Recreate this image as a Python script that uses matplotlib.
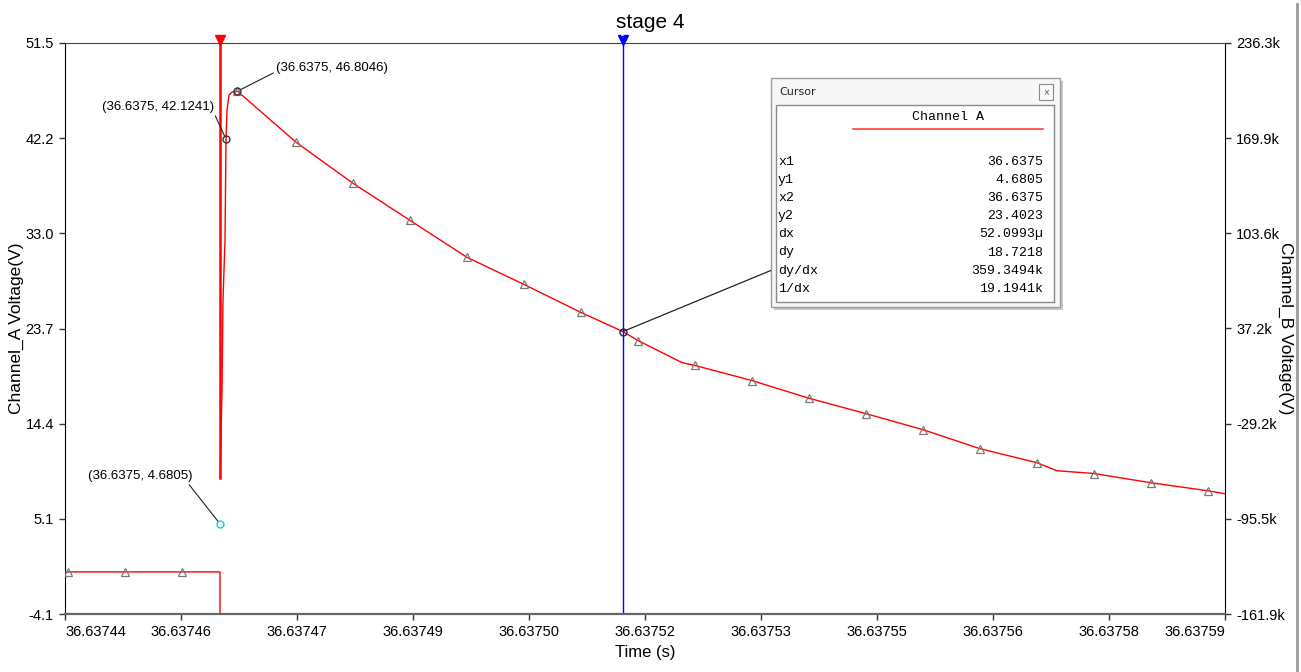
import numpy as np
import matplotlib.pyplot as plt
from matplotlib.patches import Rectangle

W, H = 1301, 672
BODY = ['Liberation Sans', 'DejaVu Sans']
MONO = ['Liberation Mono', 'DejaVu Sans Mono']
plt.rcParams['font.family'] = BODY

# time axis (s) and tick labels
t_start = 36.63744
t_span = 150e-6
xtick_labels = ['36.63744', '36.63746', '36.63747', '36.63749', '36.63750', '36.63752',
                '36.63753', '36.63755', '36.63756', '36.63758', '36.63759']
ytick_labels_a = ['-4.1', '5.1', '14.4', '23.7', '33.0', '42.2', '51.5']
ytick_labels_b = ['-161.9k', '-95.5k', '-29.2k', '37.2k', '103.6k', '169.9k', '236.3k']

# Channel A trace: microseconds after t_start, volts
trace_us = [0.0, 0.39, 7.76, 15.13, 20.04, 20.04, np.nan, 20.06, 20.30, 20.43, 20.69,
            20.82, 20.95, 21.20, 21.60, 22.30, 29.87, 37.24, 44.61, 51.98, 59.35, 66.72,
            72.14, 74.09, 79.78, 81.46, 88.83, 96.20, 103.57, 110.94, 118.31, 125.68,
            128.28, 133.05, 140.42, 147.79, 150.0]
trace_v = [0.0, 0.0, 0.0, 0.0, 0.0, -12.0, np.nan, 9.17, 17.65, 26.43, 32.28,
           42.1241, 44.96, 46.43, 46.72, 46.8046, 41.84, 37.84, 34.23, 30.63, 27.99, 25.26,
           23.4023, 22.53, 20.38, 20.10, 18.63, 16.91, 15.41, 13.85, 12.00, 10.63,
           9.85, 9.58, 8.68, 7.90, 7.61]
marker_idx = [1, 2, 3, 15, 16, 17, 18, 19, 20, 21, 23, 25, 26, 27, 28, 29, 30, 31, 33, 34, 35]

# cursor readout
x1_us = 20.04
y1 = 4.6805
dx_us = 52.0993
y2 = 23.4023
cursor_rows = [('x1', '36.6375'), ('y1', '4.6805'), ('x2', '36.6375'), ('y2', '23.4023'),
               ('dx', '52.0993µ'), ('dy', '18.7218'), ('dy/dx', '359.3494k'), ('1/dx', '19.1941k')]

# labelled points: (us, volts, label)
point_labels = [(20.82, 42.1241, '(36.6375, 42.1241)'),
                (22.30, 46.8046, '(36.6375, 46.8046)')]

t = t_start + np.array(trace_us) * 1e-6
x1 = t_start + x1_us * 1e-6
x2 = x1 + dx_us * 1e-6

fig = plt.figure(figsize=(W / 100, H / 100), dpi=100)
ax = fig.add_axes([65 / W, 1 - 614 / H, 1160 / W, 571 / H])
ax.set_xlim(t_start, t_start + t_span)
ax.set_ylim(-4.1, 51.5)

ax.plot(t, trace_v, color='#ff0000', lw=1.0, zorder=3)
ax.plot(t[marker_idx], np.array(trace_v)[marker_idx], ls='none', marker='^', ms=5.5,
        mfc='none', mec='#7a7a7a', mew=0.9, zorder=4)

# cursors
ax.plot([x1, x1], [9.17, 51.5], color='#ff0000', lw=1.8, zorder=3)
ax.axvline(x2, color='#0000ff', lw=1.0, zorder=2)
ax.plot(x1, 51.8, marker='v', ms=7.5, color='#ff0000', clip_on=False, zorder=6)
ax.plot(x2, 51.8, marker='v', ms=7.5, color='#0000ff', clip_on=False, zorder=6)
ax.text(x2, 52.3, '2', color='white', fontsize=4.5, ha='center', va='center',
        clip_on=False, zorder=7, fontweight='bold')
ax.plot(x1, y1, marker='o', ms=5, mfc='none', mec='#00d8e8', mew=1.0, zorder=5)
ax.plot(x2, y2, marker='o', ms=5, mfc='none', mec='#202060', mew=1.0, zorder=5)
for us, v, lab in point_labels:
    ax.plot(t_start + us * 1e-6, v, marker='o', ms=5, mfc='none', mec='#333333',
            mew=1.0, zorder=5)

arrow = dict(arrowstyle='-', color='#222222', lw=0.8, shrinkA=0, shrinkB=2)
ax.annotate(point_labels[0][2], xy=(t_start + point_labels[0][0] * 1e-6, point_labels[0][1]),
            xytext=(158, H - 107), textcoords='figure pixels', ha='center', va='center',
            fontsize=9.5, arrowprops=dict(arrow, relpos=(1.0, 0.0)))
ax.annotate(point_labels[1][2], xy=(t_start + point_labels[1][0] * 1e-6, point_labels[1][1]),
            xytext=(332, H - 68), textcoords='figure pixels', ha='center', va='center',
            fontsize=9.5, arrowprops=dict(arrow, relpos=(0.0, 0.2)))
ax.annotate('(36.6375, 4.6805)', xy=(x1, y1), xytext=(140, H - 476),
            textcoords='figure pixels', ha='center', va='center', fontsize=9.5,
            arrowprops=dict(arrow, relpos=(0.95, 0.0)))
ax.annotate('', xy=(x2, y2), xytext=(772, H - 270), textcoords='figure pixels',
            arrowprops=dict(arrowstyle='-', color='#222222', lw=0.9, shrinkA=0, shrinkB=0))

# axes styling
ax.set_xticks(np.linspace(t_start, t_start + t_span, 11))
ax.set_xticklabels(xtick_labels)
xl = ax.get_xticklabels()
xl[0].set_ha('left')
xl[-1].set_ha('right')
ax.set_yticks(np.linspace(-4.1, 51.5, 7))
ax.set_yticklabels(ytick_labels_a)
ax.tick_params(labelsize=10.5, length=4, width=1, color='#333333', pad=4)
ax.spines['left'].set_color('black')
ax.spines['top'].set_color('#444444')
ax.spines['bottom'].set_color('#666666')
ax.spines['bottom'].set_linewidth(1.6)
ax.spines['right'].set_color('black')
fig.text(650 / W, 1 - 22 / H, 'stage 4', fontsize=15, ha='center', va='center')
ax.set_xlabel('Time (s)', fontsize=12, labelpad=4)
ax.set_ylabel('Channel_A Voltage(V)', fontsize=12.5, va='center')
ax.yaxis.set_label_coords(-0.042, 0.5)

axb = ax.twinx()
axb.set_ylim(-161.9, 236.3)
axb.set_yticks(np.linspace(-161.9, 236.3, 7))
axb.set_yticklabels(ytick_labels_b)
axb.tick_params(labelsize=10.5, length=4, width=1, color='#333333', pad=4)
axb.set_ylabel('Channel_B Voltage(V)', fontsize=12.5, rotation=270, va='center')
axb.yaxis.set_label_coords(1.052, 0.5)
for s in axb.spines.values():
    s.set_visible(False)

# overlay in pixel coordinates for the cursor window
ov = fig.add_axes([0, 0, 1, 1], zorder=10)
ov.set_xlim(0, W)
ov.set_ylim(H, 0)
ov.axis('off')
ov.plot([1297, 1297], [4, H], color='#9a9a9a', lw=2)
ov.add_patch(Rectangle((774, 81), 289, 229, facecolor='#c8c8c8', edgecolor='none'))
ov.add_patch(Rectangle((771, 78), 289, 229, facecolor='#f7f7f7', edgecolor='#9c9c9c', lw=1))
ov.add_patch(Rectangle((776, 105), 278, 197, facecolor='white', edgecolor='#8a8a8a', lw=1))
ov.add_patch(Rectangle((1039, 84), 14, 16, facecolor='#fafafa', edgecolor='#8a8a8a', lw=0.8))
ov.text(1046, 92, '×', fontsize=7, ha='center', va='center', color='#555555')
ov.text(779, 92, 'Cursor', fontsize=8, ha='left', va='center',
        family=['DejaVu Sans'], color='#222222')
ov.text(948, 117, 'Channel A', fontsize=9.5, ha='center', va='center', family=MONO)
ov.plot([853, 1043], [129, 129], color='#ff4040', lw=1.2)
for i, (name, val) in enumerate(cursor_rows):
    y = 162 + i * 18.1
    ov.text(778, y, name, fontsize=9.5, ha='left', va='center', family=MONO)
    ov.text(1043, y, val, fontsize=9.5, ha='right', va='center', family=MONO)

fig.savefig('out.png', dpi=100)
